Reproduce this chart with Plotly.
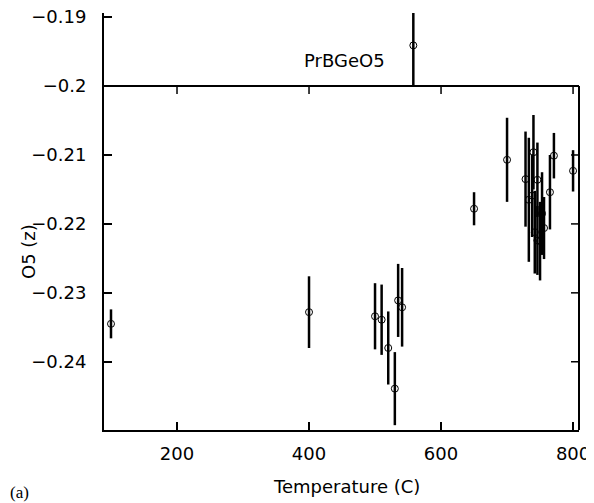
import plotly.graph_objects as go

# Data
temps = [100, 400, 500, 510, 520, 530, 535, 541, 558, 650, 700,
         728, 733, 738, 740, 742, 746, 746, 750, 753, 756, 765, 771, 800]
o5 = [-0.2345, -0.2328, -0.2334, -0.2339, -0.2380, -0.2439, -0.2311, -0.2321,
      -0.1941, -0.2178, -0.2107,
      -0.2135, -0.2165, -0.2159, -0.2096, -0.2212, -0.2136, -0.2224, -0.2225,
      -0.2185, -0.2206, -0.2154, -0.2101, -0.2123]
err = [0.0021, 0.0052, 0.0048, 0.0051, 0.0053, 0.0053, 0.0053, 0.0057,
       0.0058, 0.0024, 0.0061,
       0.0069, 0.0090, 0.0060, 0.0054, 0.0060, 0.0054, 0.0050, 0.0057,
       0.0060, 0.0045, 0.0054, 0.0033, 0.0030]

x_ticks = [200, 400, 600, 800]
y_ticks = [-0.19, -0.2, -0.21, -0.22, -0.23, -0.24]
y_ticktext = ["\u22120.19", "\u22120.2", "\u22120.21", "\u22120.22", "\u22120.23", "\u22120.24"]
frame_top = -0.2
y_range = [-0.2499, -0.1894]
x_range = [89.4, 809]
right_ticks = [-0.21, -0.22, -0.23, -0.24]

FONT = "DejaVu Sans"

# page body has an 8px margin, so the figure is shrunk and shifted to compensate
OFF = 8
FW, FH = 594 - OFF, 503 - OFF
L, T = 104 - OFF, 13 - OFF
R = FW - (579 - OFF)
B = FH - (430 - OFF)
PW, PH = FW - L - R, FH - T - B


def px_x(px):
    return (px - OFF - L) / PW


def px_y(py):
    return (FH - B - (py - OFF)) / PH


fig = go.Figure(go.Scatter(
    x=temps, y=o5, mode="markers",
    marker=dict(symbol="circle-open", size=7, color="black", line=dict(width=1, color="black")),
    error_y=dict(type="data", array=err, visible=True, thickness=2.5, width=0, color="black"),
    showlegend=False,
))

shapes = [
    dict(type="line", xref="x domain", yref="y", x0=0, x1=1, y0=frame_top, y1=frame_top,
         line=dict(color="black", width=2)),
    dict(type="line", xref="x domain", yref="y", x0=1, x1=1, y0=y_range[0], y1=frame_top,
         line=dict(color="black", width=2)),
]
for t in x_ticks:
    shapes.append(dict(type="line", xref="x", yref="y", x0=t, x1=t,
                       ysizemode="pixel", yanchor=frame_top, y0=0, y1=-8,
                       line=dict(color="black", width=1.5)))
for t in right_ticks:
    shapes.append(dict(type="line", xref="x domain", yref="y", y0=t, y1=t,
                       xsizemode="pixel", xanchor=1, x0=0, x1=-8,
                       line=dict(color="black", width=1.5)))

fig.update_layout(
    width=FW, height=FH,
    margin=dict(l=L, r=R, t=T, b=B, autoexpand=False),
    paper_bgcolor="white", plot_bgcolor="white",
    font=dict(family=FONT, size=18, color="black"),
    shapes=shapes,
    xaxis=dict(range=x_range, tickvals=x_ticks, ticks="inside", ticklen=8, tickwidth=1.5,
               tickcolor="black", showline=True, linewidth=2, linecolor="black",
               showgrid=False, zeroline=False, ticklabelstandoff=6, automargin=False,
               ticklabeloverflow="allow",
               tickfont=dict(family=FONT, size=18, color="black")),
    yaxis=dict(range=y_range, tickvals=y_ticks, ticktext=y_ticktext, ticks="inside",
               ticklen=8, tickwidth=1.5, tickcolor="black", showline=True, linewidth=2,
               linecolor="black", showgrid=False, zeroline=False, ticklabelstandoff=12,
               automargin=False, ticklabeloverflow="allow",
               tickfont=dict(family=FONT, size=18, color="black")),
    annotations=[
        dict(text="PrBGeO5", x=454, y=-0.1963, xref="x", yref="y", showarrow=False,
             font=dict(family=FONT, size=18, color="black"), xanchor="center", yanchor="middle"),
        dict(text="Temperature (C)", x=px_x(346), y=px_y(486), xref="paper", yref="paper",
             showarrow=False, font=dict(family=FONT, size=18, color="black"),
             xanchor="center", yanchor="middle"),
        dict(text="O5 (z)", x=px_x(28), y=px_y(252), xref="paper", yref="paper", showarrow=False,
             textangle=-90, font=dict(family=FONT, size=18, color="black"),
             xanchor="center", yanchor="middle"),
        dict(text="(a)", x=px_x(19), y=px_y(492), xref="paper", yref="paper", showarrow=False,
             font=dict(family="Liberation Serif", size=17, color="black"),
             xanchor="center", yanchor="middle"),
    ],
)

fig.write_html("out.html")
